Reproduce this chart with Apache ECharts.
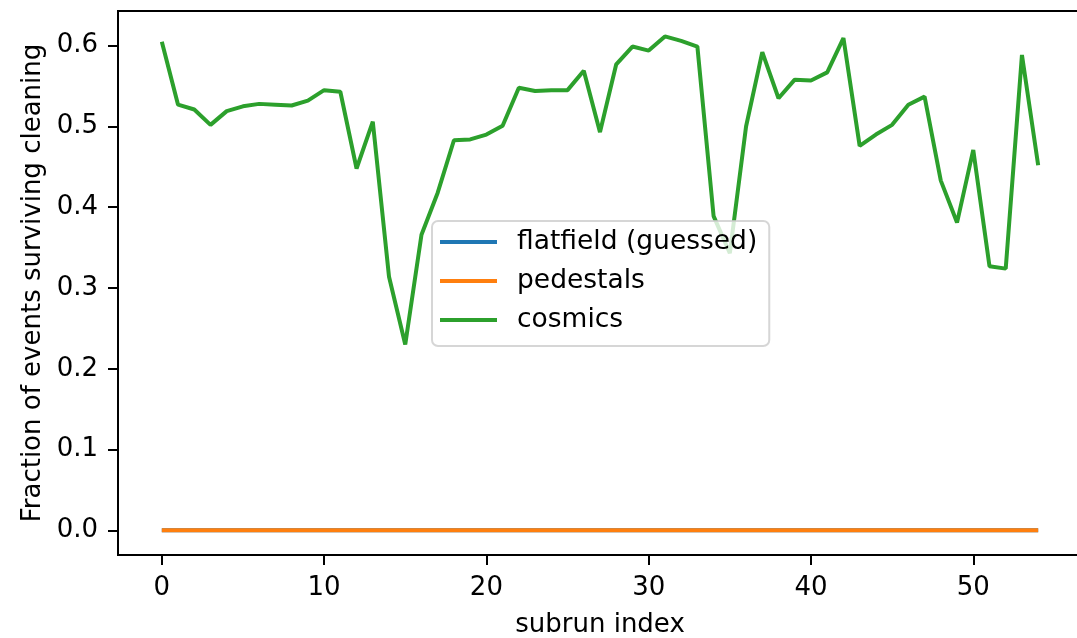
<!DOCTYPE html>
<html>
<head>
<meta charset="utf-8">
<script src="https://cdn.jsdelivr.net/npm/echarts@6/dist/echarts.min.js"></script>
<style>
html,body{margin:0;padding:0;background:#fff;}
#chart{width:1077px;height:638px;}
</style>
</head>
<body>
<div id="chart"></div>
<script>
// ---- data ----
const subrunIndex = [0,1,2,3,4,5,6,7,8,9,10,11,12,13,14,15,16,17,18,19,20,21,22,23,24,25,26,27,28,29,30,31,32,33,34,35,36,37,38,39,40,41,42,43,44,45,46,47,48,49,50,51,52,53,54];
const flatfield = [0,0,0,0,0,0,0,0,0,0,0,0,0,0,0,0,0,0,0,0,0,0,0,0,0,0,0,0,0,0,0,0,0,0,0,0,0,0,0,0,0,0,0,0,0,0,0,0,0,0,0,0,0,0,0];
const pedestals = [0,0,0,0,0,0,0,0,0,0,0,0,0,0,0,0,0,0,0,0,0,0,0,0,0,0,0,0,0,0,0,0,0,0,0,0,0,0,0,0,0,0,0,0,0,0,0,0,0,0,0,0,0,0,0];
const cosmics = [0.605,0.527,0.521,0.502,0.519,0.525,0.528,0.527,0.526,0.532,
  0.545,0.543,0.448,0.506,0.314,0.230,0.366,0.418,0.483,0.484,
  0.490,0.501,0.548,0.544,0.545,0.545,0.569,0.493,0.577,0.599,
  0.594,0.6115,0.606,0.599,0.389,0.343,0.500,0.592,0.535,0.558,
  0.557,0.567,0.6095,0.476,0.490,0.502,0.527,0.537,0.433,0.381,
  0.471,0.327,0.324,0.5885,0.452];
const seriesNames = ['flatfield (guessed)', 'pedestals', 'cosmics'];
const xTicks = [0,10,20,30,40,50];
const yTicks = [0,0.1,0.2,0.3,0.4,0.5,0.6];
const xTitle = 'subrun index';
const yTitle = 'Fraction of events surviving cleaning';

const colors = ['#1f77b4', '#ff7f0e', '#2ca02c'];
const FONT = 'DejaVu Sans';
const pair = arr => subrunIndex.map((x, i) => [x, arr[i]]);

const chart = echarts.init(document.getElementById('chart'), null, {renderer: 'canvas'});
chart.setOption({
  animation: false,
  backgroundColor: '#ffffff',
  color: colors,
  textStyle: {fontFamily: FONT},
  grid: {
    left: 118, top: 11, right: -5, bottom: 83,
    outerBoundsMode: 'none',
    containLabel: false,
    show: true, borderColor: '#000', borderWidth: 2, backgroundColor: 'transparent'
  },
  legend: {
    orient: 'vertical',
    left: 432, top: 221,
    padding: [6, 12, 11, 8],
    itemGap: 9,
    itemWidth: 57, itemHeight: 4,
    icon: 'rect',
    z: 10,
    backgroundColor: 'rgba(255,255,255,0.8)',
    borderColor: 'rgba(204,204,204,0.8)',
    borderWidth: 2,
    borderRadius: 6,
    textStyle: {fontFamily: FONT, fontSize: 26.5, color: '#000', lineHeight: 30, padding: [0, 0, 0, 15]},
    data: seriesNames
  },
  xAxis: {
    type: 'value', min: -2.7, max: 56.7,
    name: xTitle, nameLocation: 'middle', nameGap: 57,
    nameTextStyle: {fontFamily: FONT, fontSize: 26, color: '#000'},
    axisLine: {show: true, onZero: false, lineStyle: {color: '#000', width: 2}},
    splitLine: {show: false},
    axisTick: {show: true, length: 10, lineStyle: {color: '#000', width: 2}, customValues: xTicks},
    axisLabel: {show: true, margin: 20, fontFamily: FONT, fontSize: 26, color: '#000', customValues: xTicks,
      formatter: v => String(v)}
  },
  yAxis: {
    type: 'value', min: -0.0306, max: 0.643,
    name: yTitle, nameLocation: 'middle', nameGap: 72, nameRotate: 90,
    nameTextStyle: {fontFamily: FONT, fontSize: 26, color: '#000'},
    axisLine: {show: true, onZero: false, lineStyle: {color: '#000', width: 2}},
    splitLine: {show: false},
    axisTick: {show: true, length: 10, lineStyle: {color: '#000', width: 2}, customValues: yTicks},
    axisLabel: {show: true, margin: 20, fontFamily: FONT, fontSize: 26, color: '#000', customValues: yTicks,
      formatter: v => v.toFixed(1)}
  },
  series: [
    {name: seriesNames[0], type: 'line', data: pair(flatfield), showSymbol: false, lineStyle: {width: 4, color: colors[0]}, itemStyle: {color: colors[0]}, z: 2},
    {name: seriesNames[1], type: 'line', data: pair(pedestals), showSymbol: false, lineStyle: {width: 4, color: colors[1]}, itemStyle: {color: colors[1]}, z: 2},
    {name: seriesNames[2], type: 'line', data: pair(cosmics), showSymbol: false, lineStyle: {width: 4, color: colors[2]}, itemStyle: {color: colors[2]}, z: 2}
  ]
});
</script>
</body>
</html>
